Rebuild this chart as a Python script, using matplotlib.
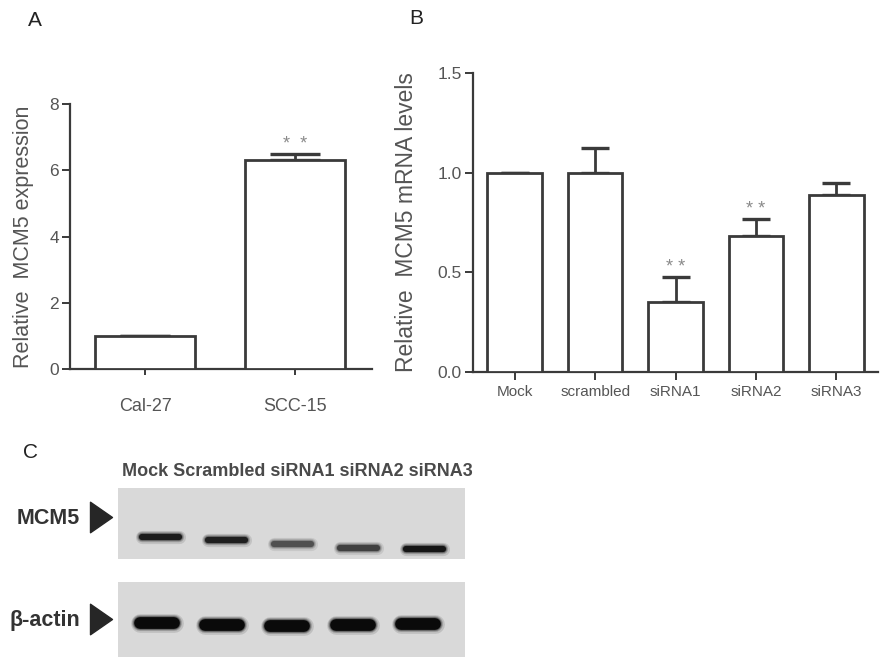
import matplotlib
matplotlib.use('Agg')
import matplotlib.pyplot as plt
from matplotlib.path import Path

plt.rcParams['font.family'] = ['Liberation Sans', 'DejaVu Sans']

# ---------------- data ----------------
# Panel A
cell_lines = ['Cal-27', 'SCC-15']
mcm5_expr = [1.0, 6.30]
mcm5_expr_err = [0.0, 0.18]
a_sig = ['', '*  *']
a_yticks = [0, 2, 4, 6, 8]

# Panel B
groups = ['Mock', 'scrambled', 'siRNA1', 'siRNA2', 'siRNA3']
mrna = [1.0, 1.0, 0.35, 0.68, 0.89]
mrna_err = [0.0, 0.125, 0.125, 0.09, 0.057]
b_sig = ['', '', '* *', '* *', '']
b_yticks = [0.0, 0.5, 1.0, 1.5]

# Panel C (western blot, band darkness relative to strongest band)
lanes = ['Mock', 'Scrambled', 'siRNA1', 'siRNA2', 'siRNA3']
blot_rows = ['MCM5', 'β-actin']
mcm5_band = [0.92, 0.90, 0.66, 0.74, 0.95]
actin_band = [1.0, 1.0, 1.0, 1.0, 1.0]
mcm5_migration = [0.31, 0.27, 0.21, 0.16, 0.14]
actin_migration = [0.45, 0.43, 0.41, 0.43, 0.44]

# ---------------- style ----------------
EDGE = '#3a3a3a'
TXT = '#555555'
STAR = '#8a8a8a'
BLOT_BG = '#d9d9d9'

fig = plt.figure(figsize=(8.86, 6.65), dpi=100)


def style_axes(ax):
    for s in ['top', 'right']:
        ax.spines[s].set_visible(False)
    for s in ['left', 'bottom']:
        ax.spines[s].set_color(EDGE)
        ax.spines[s].set_linewidth(1.6)
    ax.tick_params(axis='both', colors=EDGE, width=1.4, labelcolor=TXT)


# ---------------- Panel A ----------------
axA = fig.add_axes([0.079, 0.4451, 0.3409, 0.3985])
xa = list(range(len(cell_lines)))
axA.bar(xa, mcm5_expr, width=0.667, color='white', edgecolor=EDGE,
        linewidth=2.0, zorder=3)
axA.errorbar(xa, mcm5_expr, yerr=[[0] * len(xa), mcm5_expr_err], fmt='none',
             ecolor=EDGE, elinewidth=2.0, capsize=18, capthick=2.4, zorder=2)
for x, v, e, s in zip(xa, mcm5_expr, mcm5_expr_err, a_sig):
    if s:
        axA.annotate(s, (x, v + e), xytext=(0, 3.5), textcoords='offset points',
                     ha='center', va='baseline', fontsize=13, color=STAR)
axA.set_xlim(-0.5, 1.513)
axA.set_ylim(0, 8)
axA.set_yticks(a_yticks)
axA.set_xticks(xa)
axA.set_xticklabels(cell_lines, fontsize=13)
axA.tick_params(axis='x', length=4, pad=17)
axA.tick_params(axis='y', length=6, pad=2, labelsize=12.5)
style_axes(axA)
axA.set_ylabel('Relative  MCM5 expression', fontsize=15.5, color=TXT)
axA.yaxis.set_label_coords(-0.119, 0.5)

# ---------------- Panel B ----------------
axB = fig.add_axes([0.5339, 0.4406, 0.4571, 0.4496])
xb = list(range(len(groups)))
axB.bar(xb, mrna, width=0.68, color='white', edgecolor=EDGE,
        linewidth=2.0, zorder=3)
axB.errorbar(xb, mrna, yerr=[[0] * len(xb), mrna_err], fmt='none',
             ecolor=EDGE, elinewidth=2.0, capsize=10, capthick=2.4, zorder=2)
for x, v, e, s in zip(xb, mrna, mrna_err, b_sig):
    if s:
        axB.annotate(s, (x, v + e), xytext=(0, 3.5), textcoords='offset points',
                     ha='center', va='baseline', fontsize=13, color=STAR)
axB.set_xlim(-0.52, 4.52)
axB.set_ylim(0, 1.5)
axB.set_yticks(b_yticks)
axB.set_yticklabels([f'{t:.1f}' for t in b_yticks])
axB.set_xticks(xb)
axB.set_xticklabels(groups, fontsize=11)
axB.tick_params(axis='x', length=6, pad=3)
axB.tick_params(axis='y', length=6, pad=2, labelsize=12.5)
style_axes(axB)
axB.set_ylabel('Relative  MCM5 mRNA levels', fontsize=16.5, color=TXT)
axB.yaxis.set_label_coords(-0.136, 0.5)

# ---------------- Panel C ----------------
axM = fig.add_axes([0.1332, 0.1594, 0.3916, 0.1068])
axT = fig.add_axes([0.1332, 0.0120, 0.3916, 0.1128])
tri = Path([(-0.36, -0.5), (0.36, 0.0), (-0.36, 0.5), (-0.36, -0.5)],
           [Path.MOVETO, Path.LINETO, Path.LINETO, Path.CLOSEPOLY])

rows = [
    (axM, mcm5_band, mcm5_migration, (-0.65, 4.61), 4.5, 0.56, 0.585),
    (axT, actin_band, actin_migration, (-0.59, 4.72), 8.5, 0.52, 0.513),
]
for (ax, dark, mig, xl, lw, seg, ymark), name in zip(rows, blot_rows):
    ax.set_facecolor(BLOT_BG)
    for s in ax.spines.values():
        s.set_visible(False)
    ax.set_xticks([])
    ax.set_yticks([])
    ax.set_xlim(*xl)
    ax.set_ylim(0, 1)
    for i, (d, y) in enumerate(zip(dark, mig)):
        g = 0.85 * (1 - d) + 0.04 * d
        col = (g, g, g)
        for extra, a in [(5.0, 0.12), (3.0, 0.2), (1.5, 0.35), (0.0, 1.0)]:
            ax.plot([i - seg / 2, i + seg / 2], [y, y], color=col, alpha=a,
                    lw=lw + extra, solid_capstyle='round', zorder=2)
    ax.plot([-0.049], [ymark], marker=tri, markersize=22, color='#262626',
            transform=ax.transAxes, clip_on=False)
    ax.text(-0.11, ymark - 0.02, name, transform=ax.transAxes, ha='right',
            va='center', fontsize=15.5, fontweight='bold', color='#333333')

axM.text(0.0115, 1.225, ' '.join(lanes), transform=axM.transAxes, ha='left',
         va='center', fontsize=13, fontweight='bold', color='#4a4a4a')

# panel letters
fig.text(35 / 886, 1 - 20 / 665, 'A', fontsize=15, ha='center', va='center', color='#222222')
fig.text(416 / 886, 1 - 18 / 665, 'B', fontsize=15, ha='center', va='center', color='#222222')
fig.text(31 / 886, 1 - 452 / 665, 'C', fontsize=15, ha='center', va='center', color='#222222')

fig.savefig('out.png', dpi=100, facecolor='white')
